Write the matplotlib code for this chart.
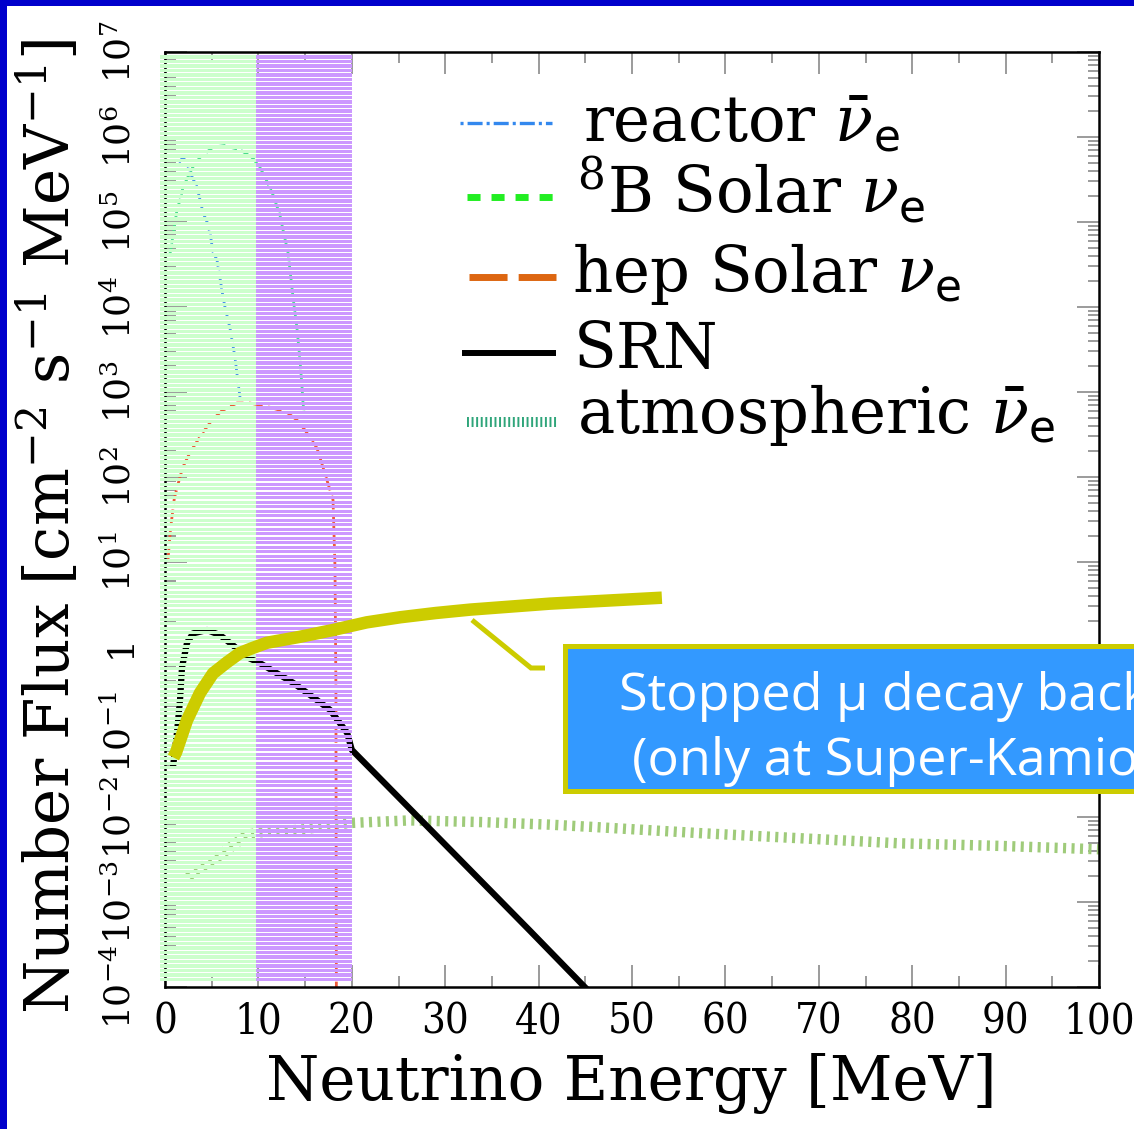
import numpy as np
import matplotlib
matplotlib.use("Agg")
import matplotlib.pyplot as plt
from matplotlib.patches import Rectangle
from matplotlib.lines import Line2D
from matplotlib.collections import PolyCollection
from matplotlib.ticker import FixedLocator, FixedFormatter, LogLocator, NullFormatter, MultipleLocator

plt.rcParams['font.family'] = ['DejaVu Serif']
plt.rcParams['mathtext.fontset'] = 'dejavuserif'
plt.rcParams['lines.scale_dashes'] = False

# ---------------- data ----------------
x_ticks = [0, 10, 20, 30, 40, 50, 60, 70, 80, 90, 100]
x_tick_labels = ['0', '10', '20', '30', '40', '50', '60', '70', '80', '90', '100']
y_ticks = [1e-4, 1e-3, 1e-2, 1e-1, 1, 1e1, 1e2, 1e3, 1e4, 1e5, 1e6, 1e7]
y_tick_labels = [r'$10^{-4}$', r'$10^{-3}$', r'$10^{-2}$', r'$10^{-1}$', '1',
                 r'$10^{1}$', r'$10^{2}$', r'$10^{3}$', r'$10^{4}$', r'$10^{5}$',
                 r'$10^{6}$', r'$10^{7}$']

reactor_energy = [1.5, 1.93, 2.36, 2.68, 3.43, 4.07, 4.50, 4.82, 5.14, 5.57, 5.89,
                  6.21, 6.42, 6.96, 7.49, 7.82, 8.03]
reactor_log10_flux = [5.70, 5.76, 5.69, 5.58, 5.41, 5.11, 5.00, 4.87, 4.65, 4.55, 4.34,
                      4.12, 4.00, 3.75, 3.41, 3.11, 2.94]

b8_energy = [0.5, 1.07, 1.28, 1.61, 1.93, 2.46, 3.0, 3.75, 5.14, 6.4, 6.96, 8.03,
             8.89, 9.42, 10.17, 10.7, 11.56, 12.31, 12.63, 13.17, 13.38, 13.7,
             14.13, 14.45, 14.67, 14.78, 14.88]
b8_log10_flux = [4.60, 4.99, 5.14, 5.26, 5.41, 5.53, 5.65, 5.76, 5.88, 5.90, 5.88,
                 5.85, 5.79, 5.75, 5.64, 5.53, 5.32, 5.08, 4.91, 4.64, 4.44, 4.12,
                 3.75, 3.38, 3.06, 2.87, 2.76]

hep_energy = [0.3, 0.6, 1.0, 1.6, 1.93, 2.68, 3.96, 5.03, 6.1, 7.7, 9.1, 11.24,
              13.06, 14.13, 15.0, 16.27, 16.9, 17.99, 18.2, 18.3, 18.35]
hep_log10_flux = [1.00, 1.40, 1.75, 2.00, 2.12, 2.29, 2.51, 2.67, 2.78, 2.87, 2.87,
                  2.82, 2.76, 2.67, 2.55, 2.34, 2.12, 1.73, 0.94, -0.5, -4.2]

srn_energy = [0.86, 1.28, 1.61, 1.82, 2.36, 3.0, 4.5, 5.89, 7.28, 8.78, 10.17,
              12.0, 13.7, 15.85, 17.67, 19.5, 20.0, 27.0, 33.0, 39.0, 46.0]
srn_log10_flux = [-1.41, -1.01, -0.62, -0.24, 0.05, 0.16, 0.20, 0.14, 0.02, -0.12,
                  -0.19, -0.31, -0.42, -0.59, -0.74, -1.01, -1.21, -1.99, -2.66,
                  -3.33, -4.12]

atm_energy = [2.5, 3.0, 5.14, 6.96, 8.78, 10.17, 14.45, 19.8, 26.2, 34.0, 41.2,
              46.3, 57.3, 68.0, 78.7, 89.4, 100.0]
atm_log10_flux = [-2.70, -2.65, -2.51, -2.36, -2.21, -2.18, -2.15, -2.07, -2.04,
                  -2.06, -2.09, -2.12, -2.19, -2.25, -2.31, -2.34, -2.38]

mu_energy = [0.9, 1.18, 2.36, 3.75, 5.14, 6.64, 8.03, 9.42, 10.92, 14.45, 17.99,
             21.6, 25.2, 29.0, 32.7, 41.2, 53.2]
mu_log10_flux = [-1.30, -1.24, -0.86, -0.54, -0.31, -0.18, -0.07, -0.01, 0.05, 0.12,
                 0.20, 0.29, 0.35, 0.40, 0.44, 0.51, 0.58]

legend_labels = [r'reactor $\bar{\nu}_{\mathsf{e}}$',
                 r'$^{8}$B Solar $\nu_{\mathsf{e}}$',
                 r'hep Solar $\nu_{\mathsf{e}}$',
                 'SRN',
                 r'atmospheric $\bar{\nu}_{\mathsf{e}}$']
callout_lines = ['Stopped \u00b5 decay background', '(only at Super-Kamiokande)']
xlabel = 'Neutrino Energy [MeV]'
ylabel = r'Number Flux [cm$^{-2}$ s$^{-1}$ MeV$^{-1}$]'

# ---------------- figure ----------------
W, H = 1134, 1129
fig = plt.figure(figsize=(W / 100, H / 100), dpi=100)
fig.patch.set_facecolor('white')

def fx(px):
    return px / W

def fy(py):
    return 1 - py / H

ax_l, ax_r, ax_t, ax_b = 165, 1099, 52, 987
ax = fig.add_axes([fx(ax_l), fy(ax_b), fx(ax_r - ax_l), (ax_b - ax_t) / H])
ax.set_xlim(0, 100)
ax.set_yscale('log')
ax.set_ylim(1e-4, 1e7)

def lf(v):
    return 10 ** np.asarray(v, dtype=float)

# curves (underneath the striped shading)
ax.plot(atm_energy, lf(atm_log10_flux), color='#9fcb7a', lw=7.5, dashes=[2.2, 3.9],
        zorder=2, solid_capstyle='butt', dash_capstyle='butt')
ax.plot(reactor_energy, lf(reactor_log10_flux), color='#4a93ea', lw=2.0,
        dashes=[8, 3, 2, 3], zorder=2)
ax.plot(b8_energy, lf(b8_log10_flux), color='#4bdc8e', lw=2.0, dashes=[6, 3], zorder=2)
ax.plot(hep_energy, lf(hep_log10_flux), color='#ee5a3a', lw=2.0, dashes=[10, 4], zorder=2)
ax.plot(srn_energy, lf(srn_log10_flux), color='black', lw=4.5, zorder=2,
        solid_capstyle='butt')

# striped shading (green 0-10, purple 10-20)
period = 4.5 / (ax_b - ax_t)
gap = 1.4 / (ax_b - ax_t)
y_lo, y_hi = 6 / (ax_b - ax_t), 1 - 3 / (ax_b - ax_t)
for (xa, xb, col) in [(-0.54, 9.74, '#ccffcc'), (9.74, 20.0, '#cc99ff')]:
    polys = []
    y = y_lo
    while y < y_hi:
        top = min(y + period - gap, y_hi)
        polys.append([(xa, y), (xb, y), (xb, top), (xa, top)])
        y += period
    pc = PolyCollection(polys, facecolors=col, edgecolors='none',
                        transform=ax.get_xaxis_transform(), zorder=3,
                        antialiased=False, clip_on=False)
    ax.add_collection(pc)

# stopped mu decay curve
ax.plot(mu_energy, lf(mu_log10_flux), color='#cccc00', lw=9, zorder=5,
        solid_capstyle='butt', solid_joinstyle='round')

# axes styling
for s in ax.spines.values():
    s.set_linewidth(1.8)
    s.set_color('black')
ax.xaxis.set_major_locator(FixedLocator(x_ticks))
ax.xaxis.set_major_formatter(FixedFormatter(x_tick_labels))
ax.xaxis.set_minor_locator(MultipleLocator(5))
ax.yaxis.set_major_locator(FixedLocator(y_ticks))
ax.yaxis.set_major_formatter(FixedFormatter(y_tick_labels))
ax.yaxis.set_minor_locator(LogLocator(base=10, subs=np.arange(2, 10), numticks=100))
ax.yaxis.set_minor_formatter(NullFormatter())
ax.tick_params(which='both', direction='in', top=True, right=True,
               color='#808080', width=1.1)
ax.tick_params(which='major', length=16)
ax.tick_params(which='minor', length=8)
ax.tick_params(axis='x', which='major', pad=10)
ax.tick_params(axis='y', which='major', pad=20)
for t in ax.get_xticklabels():
    t.set_fontsize(30)
    t.set_fontstretch('condensed')
for t in ax.get_yticklabels():
    t.set_fontsize(26)
    t.set_rotation(90)
    t.set_va('center')

ax.set_xlabel(xlabel, fontsize=44)
ax.xaxis.set_label_coords((631 - ax_l) / (ax_r - ax_l), (ax_b - 1100) / (ax_b - ax_t))
ax.xaxis.label.set_va('baseline')
ax.set_ylabel(ylabel, fontsize=44)
ax.yaxis.set_label_coords((50 - ax_l) / (ax_r - ax_l), (ax_b - 526) / (ax_b - ax_t))
ax.yaxis.label.set_va('center')

# manual legend
legend_handles = [
    dict(color='#3388ee', lw=2.4, dashes=[2.2, 2.9, 10.8, 2.9], x=(460, 552), y=123),
    dict(color='#22ee22', lw=5.0, dashes=[9.4, 7.9], x=(467, 561), y=197),
    dict(color='#dd6611', lw=5.0, dashes=[27.4, 8.0], x=(469, 556), y=277),
    dict(color='black', lw=4.3, dashes=None, x=(462, 556), y=353),
    dict(color='#2fa57a', lw=7.2, dashes=[1.4, 1.9], x=(467, 558), y=422),
]
text_pos = [(583, 143), (577, 213), (572, 292), (574, 368), (577, 433)]
for h, lab, (tx, ty) in zip(legend_handles, legend_labels, text_pos):
    ln = Line2D([fx(h['x'][0]), fx(h['x'][1])], [fy(h['y']), fy(h['y'])],
                transform=fig.transFigure, color=h['color'], lw=h['lw'],
                solid_capstyle='butt', dash_capstyle='butt')
    if h['dashes'] is not None:
        ln.set_dashes(h['dashes'])
    fig.add_artist(ln)
    fig.text(fx(tx), fy(ty), lab, fontsize=45, ha='left', va='baseline')

# callout connector and box (box runs off the right edge, as in the slide)
fig.add_artist(Line2D([fx(472), fx(531), fx(545)], [fy(620), fy(668), fy(668)],
                      transform=fig.transFigure, color='#cccc00', lw=3.6,
                      solid_capstyle='butt', solid_joinstyle='miter'))
fig.add_artist(Rectangle((fx(564.5), fy(790.5)), fx(700), (790.5 - 645.5) / H,
                         transform=fig.transFigure, facecolor='#3399ff',
                         edgecolor='#cccc00', lw=3.6))
fig.text(fx(619), fy(710), callout_lines[0], fontsize=37.5, color='white',
         family=['Open Sans', 'DejaVu Sans'], ha='left', va='baseline')
fig.text(fx(632), fy(775), callout_lines[1], fontsize=37.5, color='white',
         family=['Open Sans', 'DejaVu Sans'], ha='left', va='baseline')

# slide frame (top and left edges)
fig.add_artist(Rectangle((0, fy(6)), 1, 6 / H, transform=fig.transFigure,
                         facecolor='#0000cc', edgecolor='none'))
fig.add_artist(Rectangle((0, 0), fx(7), 1, transform=fig.transFigure,
                         facecolor='#0000cc', edgecolor='none'))

fig.savefig('out.png', dpi=100)
